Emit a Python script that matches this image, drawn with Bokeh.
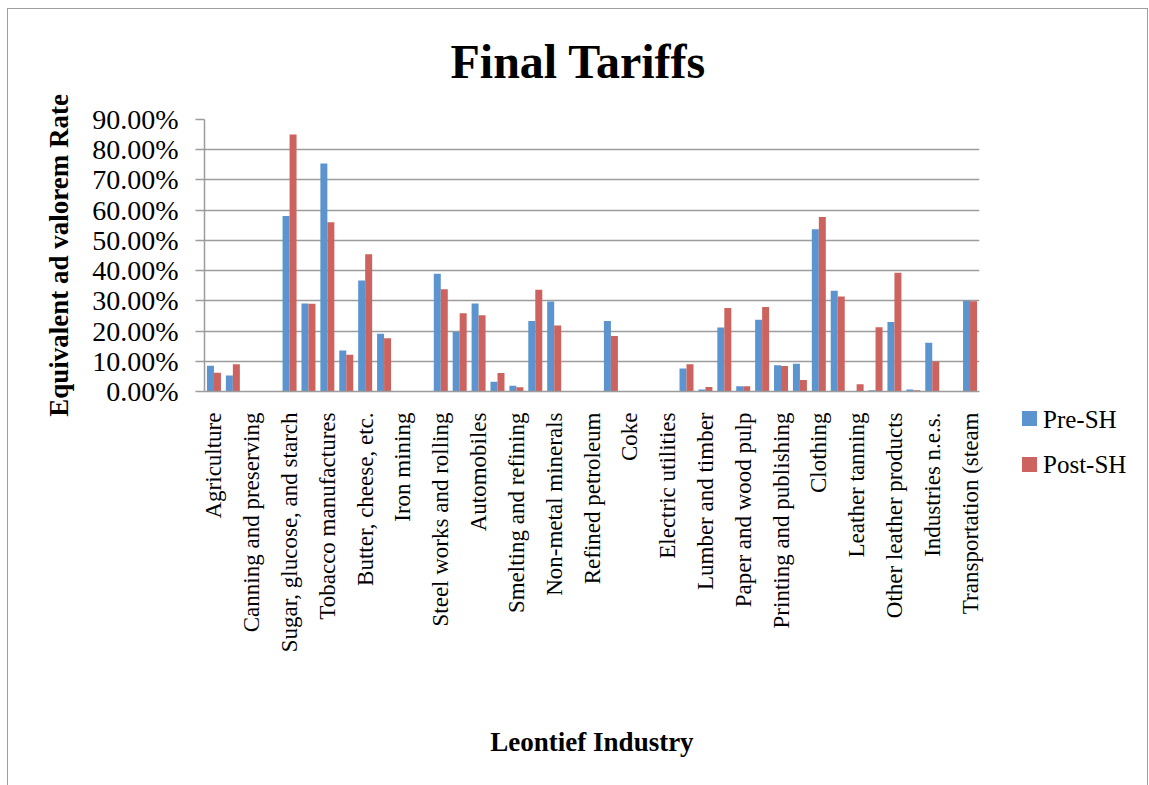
import math

from bokeh.embed import file_html
from bokeh.layouts import row
from bokeh.models import (ColumnDataSource, Div, FixedTicker, InlineStyleSheet,
                          NumeralTickFormatter, Range1d)
from bokeh.plotting import figure
from bokeh.resources import INLINE
from bokeh.transform import dodge

# Leontief industries (every other one is labelled on the axis)
categories = [
    "Agriculture",
    "Flour and grist mill products",
    "Canning and preserving",
    "Bread and bakery products",
    "Sugar, glucose, and starch",
    "Liquors",
    "Tobacco manufactures",
    "Slaughtering and meat packing",
    "Butter, cheese, etc.",
    "Other food industries",
    "Iron mining",
    "Blast furnaces",
    "Steel works and rolling",
    "Other iron and steel industries",
    "Automobiles",
    "Other transportation equipment",
    "Smelting and refining",
    "Nonferrous metal products",
    "Non-metal minerals",
    "Petroleum and natural gas",
    "Refined petroleum",
    "Chemicals",
    "Coke",
    "Gas",
    "Electric utilities",
    "Rubber",
    "Lumber and timber",
    "Other wood products",
    "Paper and wood pulp",
    "Paper products",
    "Printing and publishing",
    "Textile mill products",
    "Clothing",
    "Other textile products",
    "Leather tanning",
    "Shoes",
    "Other leather products",
    "Construction",
    "Industries n.e.s.",
    "Trade",
    "Transportation (steam",
]

# Equivalent ad valorem rates (fractions)
pre_sh = [
    0.085, 0.053, 0.0, 0.0, 0.581, 0.291, 0.754, 0.136, 0.367, 0.191,
    0.0, 0.0, 0.390, 0.198, 0.291, 0.032, 0.019, 0.233, 0.298, 0.0,
    0.0, 0.233, 0.0, 0.0, 0.0, 0.076, 0.007, 0.212, 0.017, 0.237,
    0.087, 0.092, 0.537, 0.333, 0.0, 0.004, 0.230, 0.007, 0.161, 0.0,
    0.300,
]
post_sh = [
    0.062, 0.090, 0.0, 0.0, 0.850, 0.290, 0.560, 0.122, 0.454, 0.176,
    0.0, 0.0, 0.338, 0.259, 0.252, 0.061, 0.014, 0.337, 0.218, 0.0,
    0.0, 0.184, 0.0, 0.0, 0.0, 0.090, 0.015, 0.276, 0.017, 0.280,
    0.084, 0.038, 0.577, 0.314, 0.024, 0.213, 0.393, 0.004, 0.099, 0.0,
    0.299,
]

series_names = ["Pre-SH", "Post-SH"]
y_ticks = [0.0, 0.1, 0.2, 0.3, 0.4, 0.5, 0.6, 0.7, 0.8, 0.9]

BLUE = "#5B94CE"
RED = "#CD635E"
GRID = "#9c9c9c"
SERIF = "Liberation Serif"

positions = list(range(1, len(categories) + 1))
source = ColumnDataSource(data=dict(x=positions, pre=pre_sh, post=post_sh,
                                    name=categories))

# ---- main chart -----------------------------------------------------------
p = figure(
    width=990, height=785,
    output_backend="svg", toolbar_location=None,
    x_range=Range1d(0.5, len(categories) + 0.5),
    y_range=Range1d(0, 0.9),
    min_border_left=204, min_border_right=11,
    min_border_top=119, min_border_bottom=394,
)
p.outline_line_color = None
p.background_fill_color = "white"
p.border_fill_color = "white"

bar_w = 0.37
p.vbar(x=dodge("x", -bar_w / 2, range=p.x_range), top="pre", width=bar_w,
       source=source, fill_color=BLUE, line_color=None)
p.vbar(x=dodge("x", bar_w / 2, range=p.x_range), top="post", width=bar_w,
       source=source, fill_color=RED, line_color=None)

# title
p.title.text = "Final Tariffs"
p.title.align = "left"
p.title.offset = 246
p.title.standoff = 63
p.title.text_font = SERIF
p.title.text_font_style = "bold"
p.title.text_font_size = "48px"
p.title.text_color = "black"

# grid
p.xgrid.visible = False
p.ygrid.ticker = FixedTicker(ticks=y_ticks)
p.ygrid.grid_line_color = GRID
p.ygrid.grid_line_width = 1.5

# y axis
ya = p.yaxis[0]
ya.ticker = FixedTicker(ticks=y_ticks)
ya.formatter = NumeralTickFormatter(format="0.00%")
ya.major_tick_out = 9
ya.major_tick_in = 0
ya.minor_tick_out = 0
ya.minor_tick_in = 0
ya.axis_line_color = GRID
ya.axis_line_width = 1.5
ya.major_tick_line_color = GRID
ya.major_tick_line_width = 1.5
ya.major_label_text_font = SERIF
ya.major_label_text_font_size = "28px"
ya.major_label_text_color = "black"
ya.major_label_standoff = 17
ya.axis_label = "Equivalent ad valorem Rate"
ya.axis_label_text_font = SERIF
ya.axis_label_text_font_style = "bold"
ya.axis_label_text_font_size = "27px"
ya.axis_label_text_color = "black"
ya.axis_label_standoff = 15

# x axis: label every other industry
label_positions = positions[::2]
xa = p.xaxis[0]
xa.ticker = FixedTicker(ticks=label_positions)
xa.major_label_overrides = {pos: categories[pos - 1] for pos in label_positions}
xa.major_label_orientation = math.pi / 2
xa.major_tick_out = 0
xa.major_tick_in = 0
xa.minor_tick_out = 0
xa.minor_tick_in = 0
xa.axis_line_color = GRID
xa.axis_line_width = 1.5
xa.major_label_text_font = SERIF
xa.major_label_text_font_size = "23px"
xa.major_label_text_color = "black"
xa.major_label_standoff = 21
xa.axis_label = "Leontief Industry"
xa.axis_label_text_font = SERIF
xa.axis_label_text_font_style = "bold"
xa.axis_label_text_font_size = "27px"
xa.axis_label_text_color = "black"
xa.axis_label_standoff = 72

# ---- legend panel ---------------------------------------------------------
def legend_entry(color, label, swatch_top, text_top):
    return (
        f'<div style="position:absolute;left:32px;top:{swatch_top}px;'
        f'width:15px;height:15px;background:{color};"></div>'
        f'<div style="position:absolute;left:53px;top:{text_top}px;'
        f'white-space:nowrap;">{label}</div>'
    )

legend_html = (
    '<div style="position:relative;width:159px;height:785px;'
    f"font-family:'{SERIF}',serif;font-size:25px;line-height:30px;color:#000;\">"
    + legend_entry(BLUE, series_names[0], 411, 405)
    + legend_entry(RED, series_names[1], 457, 450)
    + "</div>"
)
legend_panel = Div(text=legend_html, width=159, height=785, margin=0)

# chart-area border drawn around the whole layout
layout = row(p, legend_panel, spacing=0, stylesheets=[InlineStyleSheet(css="""
:host { overflow: hidden; }
:host::after {
  content: "";
  position: absolute;
  left: 7px; top: 8px; right: 1px; bottom: -4px;
  border: 1.5px solid #a0a0a0;
  pointer-events: none;
}
""")])

open("out.html", "w").write(file_html(layout, INLINE))
